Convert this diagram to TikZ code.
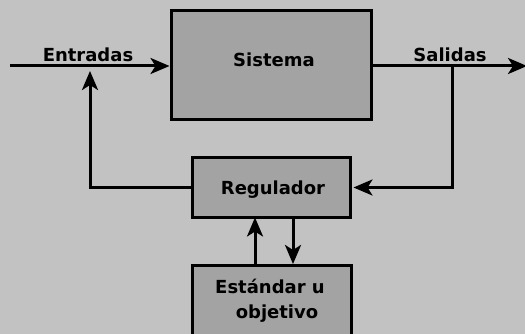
\documentclass[tikz,border=0pt]{standalone}
\usepackage{fontspec}
\setmainfont{DejaVu Sans}
\usetikzlibrary{arrows.meta}
\definecolor{bgcol}{gray}{0.76}
\definecolor{boxcol}{gray}{0.64}
\tikzset{
  blk/.style={draw=black, line width=3pt, fill=boxcol, inner sep=0pt},
  txt/.style={font=\fontsize{18}{25}\selectfont\bfseries, inner sep=0pt, anchor=base},
  arr/.style={line width=3pt, -{Stealth[length=19pt, width=16pt, inset=5pt]}}
}
\begin{document}
\begin{tikzpicture}[x=1pt,y=-1pt]
\useasboundingbox (0,0) rectangle (525,334);
\fill[bgcol] (0,0) rectangle (525,334);
\clip (0,0) rectangle (525,334);
% boxes
\node[blk, minimum width=200pt, minimum height=109pt] (sis) at (271,65.5) {};
\node[blk, minimum width=158pt, minimum height=59pt] (reg) at (271,187.5) {};
\node[blk, minimum width=159pt, minimum height=100pt, anchor=north] (est) at (272,264) {};
% texts
\node[txt] (sist) at (274,67) {Sistema};
\node[txt] (regt) at (273,195) {Regulador};
\node[txt] (est1) at (270,293) {Estándar u};
\node[txt] (est2) at (277,318) {objetivo};
\node[txt] (ent) at (88,62) {Entradas};
\node[txt] (sal) at (450,62) {Salidas};
% coordinates
\coordinate (in) at (10,66);
\coordinate (out) at (527,66);
\coordinate (br) at (452,66);
\coordinate (fb) at (90,71);
% connectors
\draw[arr] (in) -- (in -| sis.west);
\draw[arr] (sis.east |- out) -- (out);
\draw[arr] (br) |- ([xshift=2pt]reg.east);
\draw[arr] (reg.west) -| (fb);
\draw[arr] ([xshift=-17pt]est.north) -- ([xshift=-16pt,yshift=1pt]reg.south);
\draw[arr] ([xshift=22pt]reg.south) -- ([xshift=21pt]est.north);
\end{tikzpicture}
\end{document}
